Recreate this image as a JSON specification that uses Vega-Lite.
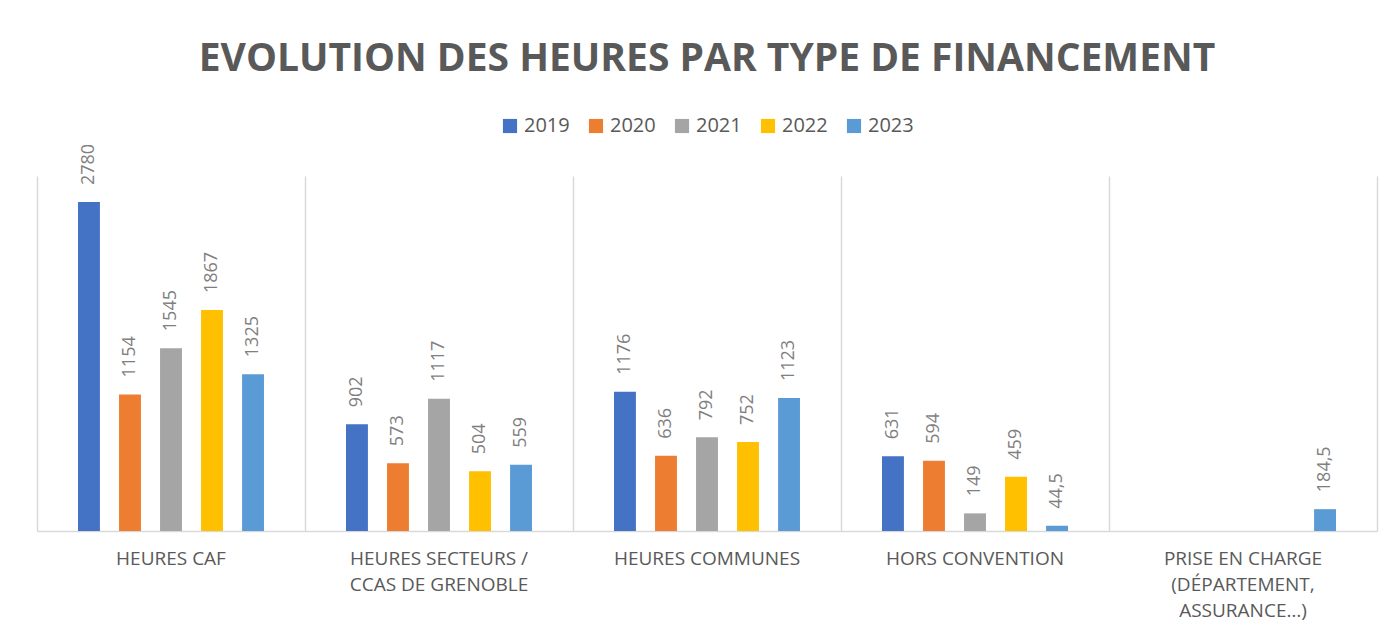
{
  "$schema": "https://vega.github.io/schema/vega-lite/v6.json",
  "width": 1340,
  "height": 355,
  "autosize": {"type": "none"},
  "padding": {"left": 37, "top": 176, "right": 3, "bottom": 102},
  "background": "white",
  "config": {
    "view": {"stroke": null},
    "font": "Open Sans",
    "legend": {"layout": {"top": {"anchor": "middle"}}}
  },
  "title": {
    "text": "EVOLUTION DES HEURES PAR TYPE DE FINANCEMENT",
    "font": "Open Sans",
    "fontSize": 39,
    "fontWeight": "bold",
    "color": "#595959",
    "anchor": "middle",
    "offset": 37
  },
  "data": {
    "values": [
      {"cat": "HEURES  CAF", "year": "2019", "hours": 2780},
      {"cat": "HEURES  CAF", "year": "2020", "hours": 1154},
      {"cat": "HEURES  CAF", "year": "2021", "hours": 1545},
      {"cat": "HEURES  CAF", "year": "2022", "hours": 1867},
      {"cat": "HEURES  CAF", "year": "2023", "hours": 1325},
      {"cat": "HEURES SECTEURS / CCAS DE GRENOBLE", "year": "2019", "hours": 902},
      {"cat": "HEURES SECTEURS / CCAS DE GRENOBLE", "year": "2020", "hours": 573},
      {"cat": "HEURES SECTEURS / CCAS DE GRENOBLE", "year": "2021", "hours": 1117},
      {"cat": "HEURES SECTEURS / CCAS DE GRENOBLE", "year": "2022", "hours": 504},
      {"cat": "HEURES SECTEURS / CCAS DE GRENOBLE", "year": "2023", "hours": 559},
      {"cat": "HEURES COMMUNES", "year": "2019", "hours": 1176},
      {"cat": "HEURES COMMUNES", "year": "2020", "hours": 636},
      {"cat": "HEURES COMMUNES", "year": "2021", "hours": 792},
      {"cat": "HEURES COMMUNES", "year": "2022", "hours": 752},
      {"cat": "HEURES COMMUNES", "year": "2023", "hours": 1123},
      {"cat": "HORS CONVENTION", "year": "2019", "hours": 631},
      {"cat": "HORS CONVENTION", "year": "2020", "hours": 594},
      {"cat": "HORS CONVENTION", "year": "2021", "hours": 149},
      {"cat": "HORS CONVENTION", "year": "2022", "hours": 459},
      {"cat": "HORS CONVENTION", "year": "2023", "hours": 44.5},
      {"cat": "PRISE EN CHARGE (DÉPARTEMENT, ASSURANCE…)", "year": "2023", "hours": 184.5}
    ]
  },
  "encoding": {
    "x": {
      "field": "cat",
      "type": "nominal",
      "sort": null,
      "scale": {"paddingInner": 0, "paddingOuter": 0},
      "axis": {
        "title": null,
        "labelAngle": 0,
        "labelFont": "Open Sans",
        "labelFontSize": 19,
        "labelColor": "#595959",
        "labelPadding": 18,
        "labelLineHeight": 26,
        "labelBaseline": "top",
        "labelLimit": 400,
        "labelExpr": "datum.value == 'HEURES SECTEURS / CCAS DE GRENOBLE' ? ['HEURES SECTEURS /', 'CCAS DE GRENOBLE'] : datum.value == 'PRISE EN CHARGE (DÉPARTEMENT, ASSURANCE…)' ? ['PRISE EN CHARGE', '(DÉPARTEMENT,', 'ASSURANCE…)'] : datum.value",
        "ticks": false,
        "domain": true,
        "domainColor": "#d9d9d9",
        "domainWidth": 1.5,
        "grid": true,
        "gridColor": "#d9d9d9",
        "gridWidth": 1.5,
        "bandPosition": 0
      }
    }
  },
  "layer": [
    {
      "mark": {"type": "bar"},
      "encoding": {
        "xOffset": {
          "field": "year",
          "type": "nominal",
          "scale": {"domain": ["2019", "2020", "2021", "2022", "2023"], "paddingInner": 0.466, "paddingOuter": 1.28}
        },
        "y": {
          "field": "hours",
          "type": "quantitative",
          "scale": {"domain": [0, 3000], "nice": false},
          "axis": {
            "orient": "right",
            "title": null,
            "labels": false,
            "ticks": false,
            "grid": false,
            "domain": true,
            "domainColor": "#d9d9d9",
            "domainWidth": 1.5
          }
        },
        "color": {
          "field": "year",
          "type": "nominal",
          "scale": {"domain": ["2019", "2020", "2021", "2022", "2023"], "range": ["#4472C4", "#ED7D31", "#A5A5A5", "#FFC000", "#5B9BD5"]},
          "legend": {
            "title": null,
            "orient": "top",
            "direction": "horizontal",
            "symbolType": "square",
            "symbolSize": 200,
            "symbolStrokeWidth": 0,
            "labelFont": "Open Sans",
            "labelFontSize": 20,
            "labelColor": "#595959",
            "columnPadding": 16,
            "offset": 40
          }
        }
      }
    },
    {
      "mark": {"type": "text", "angle": 270, "align": "left", "baseline": "middle", "dx": 17, "fontSize": 18, "font": "Open Sans", "color": "#7f7f7f"},
      "encoding": {
        "xOffset": {
          "field": "year",
          "type": "nominal",
          "scale": {"domain": ["2019", "2020", "2021", "2022", "2023"], "paddingInner": 0.466, "paddingOuter": 1.28}
        },
        "y": {"field": "hours", "type": "quantitative"},
        "text": {"value": {"expr": "replace(format(datum.hours, '.1~f'), '.', ',')"}}
      }
    }
  ]
}
